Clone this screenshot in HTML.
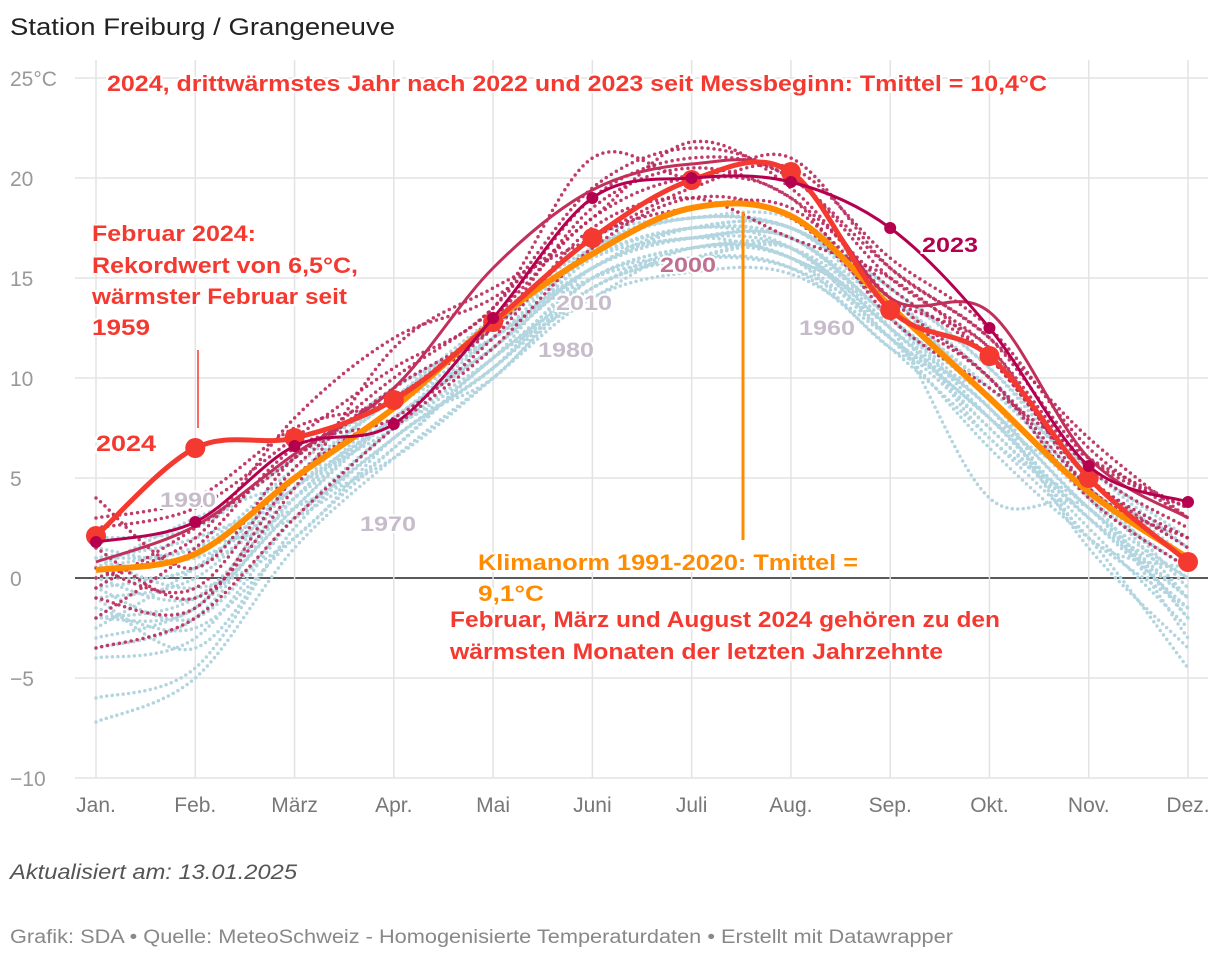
<!DOCTYPE html>
<html><head><meta charset="utf-8"><style>
body{margin:0;background:#fff;font-family:"Liberation Sans",sans-serif;}
svg text{font-family:"Liberation Sans",sans-serif;}
</style></head><body>
<svg id="chart" width="1220" height="962" viewBox="0 0 1220 962" xmlns="http://www.w3.org/2000/svg">
<text x="10" y="35" font-size="24" fill="#222" textLength="385" lengthAdjust="spacingAndGlyphs">Station Freiburg / Grangeneuve</text>
<g id="grid"></g>
<g id="lines"></g>
<g id="ann"></g>
<text x="10" y="879" font-size="21" font-style="italic" fill="#555" textLength="287" lengthAdjust="spacingAndGlyphs">Aktualisiert am: 13.01.2025</text>
<text x="10" y="943" font-size="19" fill="#888" textLength="943" lengthAdjust="spacingAndGlyphs">Grafik: SDA • Quelle: MeteoSchweiz - Homogenisierte Temperaturdaten • Erstellt mit Datawrapper</text>
</svg>
<script>
const months=["Jan.","Feb.","März","Apr.","Mai","Juni","Juli","Aug.","Sep.","Okt.","Nov.","Dez."];
const yTicks=[25,20,15,10,5,0,-5,-10];
const y2024=[2.1,6.5,7.0,8.9,12.8,17.0,19.9,20.3,13.4,11.1,5.0,0.8];
const y2023=[1.8,2.8,6.6,7.7,13.0,19.0,20.0,19.8,17.5,12.5,5.6,3.8];
const yNorm=[0.4,1.2,5.0,8.5,12.8,16.2,18.5,18.1,13.6,9.0,4.3,1.0];
const y2022=[0.8,2.6,6.2,9.5,15.5,19.4,20.7,20.2,14.0,13.3,6.0,3.0];
const blueYears=[
[-7.2,-5.0,1.5,6.0,10.0,14.0,15.3,15.2,12.0,8.0,3.0,-1.5],
[-6.0,-4.5,2.5,7.0,10.5,14.5,16.0,15.5,11.5,7.0,2.0,-4.5],
[-4.0,-3.0,3.0,7.5,11.0,15.0,16.5,16.0,12.5,4.0,3.5,-3.0],
[-3.0,-1.5,3.5,8.0,11.5,15.5,17.0,17.0,13.0,9.0,4.0,-2.0],
[-2.0,-1.0,4.0,8.5,11.5,16.0,17.5,17.5,13.5,9.5,4.5,-1.0],
[-1.0,0.0,4.5,8.0,12.0,15.5,17.0,16.5,12.5,8.5,3.5,0.0],
[0.0,0.5,5.0,9.0,12.5,16.0,17.5,17.0,13.0,9.0,4.0,0.5],
[1.0,1.5,5.5,9.5,12.0,16.5,18.0,17.5,14.0,10.0,5.0,1.0],
[2.0,2.5,6.0,9.0,12.5,17.0,18.0,18.0,14.5,10.5,5.5,1.5],
[-1.5,-2.5,2.0,6.5,11.0,14.5,16.5,16.0,12.0,7.5,2.5,-2.5],
[0.5,3.0,5.0,8.5,12.0,15.0,16.0,16.5,13.0,8.0,3.0,0.0],
[-0.5,-2.0,3.0,7.0,10.5,15.0,16.5,16.5,12.5,8.0,4.5,-0.5],
[1.5,1.0,4.0,8.0,11.5,16.0,17.5,17.0,13.5,9.5,5.5,2.0],
[-2.5,0.5,4.5,7.5,11.0,16.5,18.0,17.5,14.0,10.0,4.0,0.5],
[0.0,-1.0,3.5,8.5,12.5,16.0,17.0,17.0,13.0,8.5,3.5,-1.0],
[-3.5,-2.0,4.0,8.0,11.5,15.5,17.5,16.5,12.0,6.5,2.0,-1.5],
[1.0,2.0,4.5,9.5,12.0,15.5,17.5,17.5,14.0,9.0,4.5,1.0],
[-1.0,-3.5,2.5,7.5,10.0,15.0,16.0,15.5,12.5,7.5,3.0,-1.0],
[0.5,1.5,3.0,6.5,11.0,14.0,16.5,16.0,11.5,9.0,2.0,0.5],
[-2.0,-1.5,5.0,9.0,13.0,16.5,18.0,17.5,14.5,10.5,5.0,1.5],
[1.0,-0.5,2.0,7.0,10.5,15.5,17.0,16.0,13.0,7.0,3.5,-2.0],
[-0.5,0.5,3.5,6.0,10.0,14.5,16.0,16.5,12.0,8.5,1.5,-3.5]
];
const redYears=[
[-3.5,-2.0,3.0,7.5,11.5,16.5,19.0,18.0,13.5,10.0,4.5,1.0],
[4.0,0.5,6.0,9.0,12.5,18.5,20.5,19.0,14.5,11.0,5.0,2.0],
[-1.0,-1.5,5.0,8.5,13.0,19.0,21.0,20.0,15.0,11.5,5.5,2.5],
[2.5,3.5,7.0,10.5,13.5,21.0,20.0,21.0,15.5,12.0,6.0,3.5],
[0.0,2.0,8.0,12.0,14.0,18.0,21.8,19.5,14.0,10.0,4.0,0.5],
[1.5,-1.0,4.5,11.5,14.5,17.0,19.5,20.5,16.0,12.5,6.5,3.0],
[-2.0,1.5,6.5,8.0,12.0,17.5,19.0,17.0,15.0,11.0,5.0,1.5],
[3.0,4.0,7.5,9.0,13.0,18.0,20.0,19.0,13.0,9.5,6.0,3.5],
[0.5,-0.5,5.5,9.5,12.5,17.0,18.5,18.5,14.0,11.5,4.5,2.0],
[-0.5,2.5,6.0,10.0,13.5,19.5,21.5,20.0,15.5,12.0,7.0,3.0]
];
const NS="http://www.w3.org/2000/svg";
const X0=96,X1=1188,Y0=578,PX=20;
function xS(i){return X0+i*(X1-X0)/11;}
function yS(v){return Y0-v*PX;}
function mk(t,a,p){const e=document.createElementNS(NS,t);for(const k in a)e.setAttribute(k,a[k]);p.appendChild(e);return e;}
function path(vals){const p=vals.map((v,i)=>[xS(i),yS(v)]);let d="M"+p[0];for(let i=0;i<p.length-1;i++){const a=p[i-1]||p[i],b=p[i],c=p[i+1],e=p[i+2]||c;d+=" C"+(b[0]+(c[0]-a[0])/6)+","+(b[1]+(c[1]-a[1])/6)+" "+(c[0]-(e[0]-b[0])/6)+","+(c[1]-(e[1]-b[1])/6)+" "+c[0]+","+c[1];}return d;}
const g=document.getElementById("grid"),L=document.getElementById("lines"),A=document.getElementById("ann");
yTicks.forEach(t=>{
 const ln=mk("line",{x1:75,x2:1208,y1:yS(t),y2:yS(t),stroke:t===0?"#222":"#e3e3e3","stroke-width":t===0?1.6:1.5},g);
 
 
 const tx=mk("text",{x:10,y:yS(t)+8,"font-size":21,fill:"#999"},g);tx.textContent=(t<0?"−"+(-t):t)+(t===25?"°C":"");
 
 
});
months.forEach((m,i)=>{
 const ln=mk("line",{x1:xS(i),x2:xS(i),y1:60,y2:778,stroke:"#e3e3e3","stroke-width":1.5},g);
 
 
 const tx=mk("text",{x:xS(i),y:812,"font-size":21,fill:"#777","text-anchor":"middle"},g);tx.textContent=m;
 
 
});
blueYears.forEach(v=>{const p=mk("path",{d:path(v),fill:"none",stroke:"#b2d5df","stroke-width":3.5,"stroke-dasharray":"0 5.5","stroke-linecap":"round"},L);
 
 });
redYears.forEach(v=>{const p=mk("path",{d:path(v),fill:"none",stroke:"#b8285a","stroke-opacity":0.9,"stroke-width":3.5,"stroke-dasharray":"0 6","stroke-linecap":"round"},L);
 
 });
let p=mk("path",{d:path(yNorm),fill:"none",stroke:"#ff8c00","stroke-width":6},L);


p=mk("path",{d:path(y2022),fill:"none",stroke:"#c0305a","stroke-width":3},L);


p=mk("path",{d:path(y2024),fill:"none",stroke:"#f43a30","stroke-width":5},L);


y2024.forEach((v,i)=>{const c=mk("circle",{cx:xS(i),cy:yS(v),r:10,fill:"#f43a30"},L);
 
 });
p=mk("path",{d:path(y2023),fill:"none",stroke:"#b5004f","stroke-width":3},L);


y2023.forEach((v,i)=>{const c=mk("circle",{cx:xS(i),cy:yS(v),r:6,fill:"#b5004f"},L);
 
 });
function T(x,y,s,c,name,fs,len){const a={x:x,y:y,"font-size":fs||22,"font-weight":"bold",fill:c,stroke:"#fff","stroke-width":4,"paint-order":"stroke"};if(len){a.textLength=len;a.lengthAdjust="spacingAndGlyphs";}const t=mk("text",a,A);t.textContent=s;
 
 }
mk("line",{x1:198,x2:198,y1:350,y2:428,stroke:"#f43a30","stroke-width":1.5},A);
mk("line",{x1:743,x2:743,y1:212,y2:540,stroke:"#ff8c00","stroke-width":3},A);
T(107,91,"2024, drittwärmstes Jahr nach 2022 und 2023 seit Messbeginn: Tmittel = 10,4°C","#f43a30","headline-annotation",22,940);
[["Februar 2024:",241,164],["Rekordwert von 6,5°C,",273,266],["wärmster Februar seit",304,255],["1959",335,58]].forEach(a=>T(92,a[1],a[0],"#f43a30","february-annotation",22,a[2]));
T(96,451,"2024","#f43a30","label-2024",22,60);
T(922,252,"2023","#b5004f","label-2023",21,56);
T(660,272,"2000","#c07090","label-2000",21,56);
T(556,310,"2010","#c7bccb","label-2010",21,56);
T(538,357,"1980","#c7bccb","label-1980",21,56);
T(799,335,"1960","#c7bccb","label-1960",21,56);
T(160,507,"1990","#c7bccb","label-1990",21,56);
T(360,531,"1970","#c7bccb","label-1970",21,56);
T(478,570,"Klimanorm 1991-2020: Tmittel =","#ff8c00","norm-annotation",22,380);
T(478,601,"9,1°C","#ff8c00","norm-annotation",22,66);
T(450,627,"Februar, März und August 2024 gehören zu den","#f43a30","months-annotation",22,550);
T(450,659,"wärmsten Monaten der letzten Jahrzehnte","#f43a30","months-annotation",22,493);
</script>
</body></html>
